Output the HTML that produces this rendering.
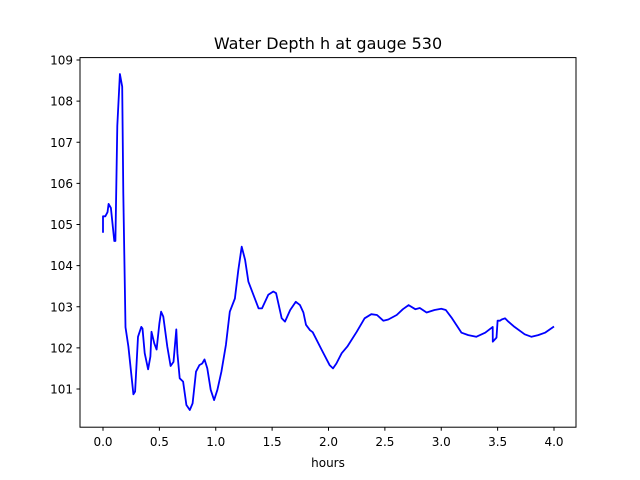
<!DOCTYPE html>
<html><head><meta charset="utf-8"><style>
body{margin:0;background:#fff;}
svg{display:block;font-family:"DejaVu Sans","Liberation Sans",sans-serif;}
</style></head><body>
<svg id="chart" width="640" height="480">
<rect width="640" height="480" fill="#fff"/>
<text x="328" y="49" text-anchor="middle" font-size="16">Water Depth h at gauge 530</text>
<g id="plot"></g>
<rect x="80" y="57.6" width="496" height="369.6" fill="none" stroke="#000" stroke-width="1"/>
<text x="328" y="467" text-anchor="middle" font-size="12">hours</text>
</svg>
<script>
const xTicks=[0,0.5,1.0,1.5,2.0,2.5,3.0,3.5,4.0];
const xTickLabels=["0.0","0.5","1.0","1.5","2.0","2.5","3.0","3.5","4.0"];
const yTicks=[101,102,103,104,105,106,107,108,109];
const hours=[0,0,0.02,0.04,0.05,0.07,0.10,0.11,0.127,0.15,0.17,0.18,0.20,0.225,0.27,0.285,0.31,0.34,0.35,0.37,0.40,0.42,0.43,0.455,0.475,0.50,0.515,0.535,0.57,0.60,0.625,0.65,0.66,0.68,0.71,0.74,0.77,0.795,0.825,0.855,0.88,0.90,0.925,0.955,0.985,1.015,1.05,1.09,1.125,1.17,1.20,1.23,1.26,1.29,1.38,1.41,1.466,1.51,1.535,1.585,1.614,1.66,1.71,1.747,1.777,1.80,1.836,1.86,1.94,2.01,2.04,2.07,2.117,2.167,2.25,2.32,2.38,2.43,2.486,2.53,2.605,2.66,2.71,2.77,2.81,2.87,2.94,3.00,3.04,3.09,3.18,3.24,3.31,3.39,3.456,3.457,3.49,3.50,3.52,3.536,3.565,3.595,3.65,3.74,3.80,3.86,3.92,4.0];
const depth=[104.8,105.2,105.2,105.3,105.5,105.4,104.6,104.6,107.4,108.66,108.35,105.76,102.5,102.03,100.87,100.94,102.27,102.51,102.47,101.87,101.48,101.79,102.39,102.11,101.96,102.6,102.88,102.76,102.03,101.56,101.66,102.45,101.87,101.26,101.18,100.61,100.49,100.65,101.42,101.58,101.62,101.72,101.5,100.98,100.73,100.98,101.42,102.07,102.88,103.2,103.89,104.46,104.14,103.61,102.96,102.96,103.29,103.37,103.33,102.72,102.64,102.92,103.12,103.04,102.86,102.56,102.43,102.38,101.95,101.58,101.5,101.62,101.87,102.03,102.39,102.72,102.82,102.8,102.66,102.69,102.8,102.94,103.04,102.94,102.97,102.86,102.92,102.95,102.92,102.74,102.37,102.31,102.27,102.37,102.51,102.15,102.25,102.66,102.66,102.69,102.72,102.64,102.51,102.33,102.27,102.31,102.37,102.52];
const NS="http://www.w3.org/2000/svg";
const xs=v=>103+v*112.75;
const ys=v=>60+(109-v)*41.125;
const g=document.getElementById('plot');
xTicks.forEach((t,i)=>{
  const l=document.createElementNS(NS,'line');
  l.setAttribute('x1',xs(t));l.setAttribute('x2',xs(t));l.setAttribute('y1',427.2);l.setAttribute('y2',430.7);l.setAttribute('stroke','#000');
  
  
  g.appendChild(l);
  const tx=document.createElementNS(NS,'text');
  tx.setAttribute('x',xs(t));tx.setAttribute('y',446);tx.setAttribute('text-anchor','middle');tx.setAttribute('font-size','12');
  tx.textContent=xTickLabels[i];
  
  
  g.appendChild(tx);
});
yTicks.forEach(t=>{
  const l=document.createElementNS(NS,'line');
  l.setAttribute('x1',76.5);l.setAttribute('x2',80);l.setAttribute('y1',ys(t));l.setAttribute('y2',ys(t));l.setAttribute('stroke','#000');
  
  
  g.appendChild(l);
  const tx=document.createElementNS(NS,'text');
  tx.setAttribute('x',73);tx.setAttribute('y',ys(t)+4.5);tx.setAttribute('text-anchor','end');tx.setAttribute('font-size','12');
  tx.textContent=t;
  
  
  g.appendChild(tx);
});
const p=document.createElementNS(NS,'polyline');
p.setAttribute('points',hours.map((h,i)=>xs(h).toFixed(1)+','+ys(depth[i]).toFixed(1)).join(' '));
p.setAttribute('fill','none');p.setAttribute('stroke','#0000ff');p.setAttribute('stroke-width','1.8');p.setAttribute('stroke-linejoin','round');


g.appendChild(p);
</script>
</body></html>
